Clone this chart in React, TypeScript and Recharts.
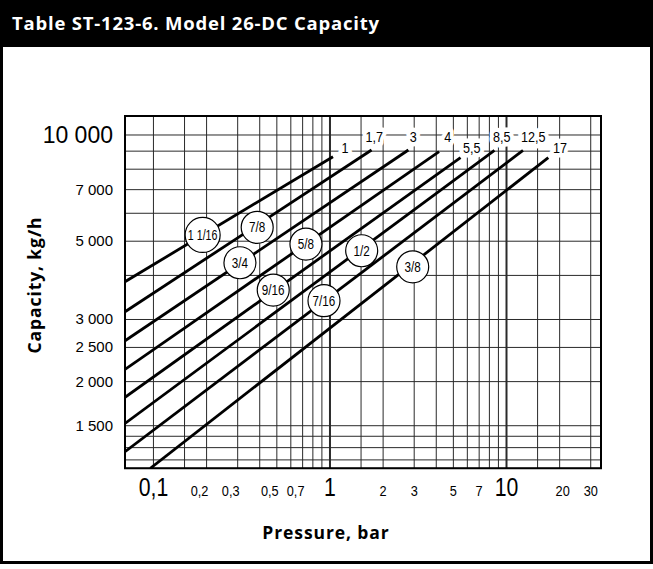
import React from 'react';
import { LineChart, Line, XAxis, YAxis, CartesianGrid, Scatter, ReferenceArea } from 'recharts';

const xGrid = [0.1, 0.15, 0.2, 0.3, 0.4, 0.5, 0.6, 0.7, 0.8, 0.9, 1, 1.5, 2, 3, 4, 5, 6, 7, 8, 9, 10, 15, 20, 30];
const xMajorGrid = [1, 10];
const yGrid = [1200, 1300, 1400, 1500, 2000, 2500, 3000, 4000, 5000, 6000, 7000, 8000, 9000, 10000];
const xTickLabels = [0.1, 0.2, 0.3, 0.5, 0.7, 1, 2, 3, 5, 7, 10, 20, 30];
const xBigLabels = [0.1, 1, 10];
const yTickLabels = [1500, 2000, 2500, 3000, 5000, 7000, 10000];
const yBigLabels = [10000];

const orifices = ['1 1/16', '7/8', '3/4', '5/8', '9/16', '1/2', '7/16', '3/8'];
const maxPressureLabels = ['1', '1,7', '3', '4', '5,5', '8,5', '12,5', '17'];
const startPressure = [0.069, 0.069, 0.069, 0.069, 0.069, 0.069, 0.069, 0.096];
const startCapacity = [3839, 3155, 2612, 2167, 1805, 1523, 1266, 1136];
const endPressure = [1.04, 1.72, 2.78, 4.15, 5.49, 8.55, 12.4, 17.25];
const endCapacity = [8680, 9068, 9068, 8967, 8625, 9039, 9039, 8625];
const bubbleP = [0.19, 0.387, 0.309, 0.731, 0.477, 1.512, 0.925, 2.942];
const bubbleC = [5208, 5474, 4345, 4909, 3636, 4699, 3391, 4230];
const maxLabelP = [1.216, 1.78, 2.96, 4.64, 6.35, 9.39, 14.19, 20.1];
const maxLabelC = [9180, 9900, 9900, 9900, 9180, 9900, 9900, 9180];

const X_DOMAIN = [0.069, 34.3];
const Y_DOMAIN = [1136, 11320];

const series = orifices.map((name, i) => ({
  name,
  data: [
    { p: startPressure[i], c: startCapacity[i] },
    { p: endPressure[i], c: endCapacity[i] },
  ],
}));
const bubbles = orifices.map((t, i) => ({ p: bubbleP[i], c: bubbleC[i], t }));
const topLabels = maxPressureLabels.map((t, i) => ({ p: maxLabelP[i], c: maxLabelC[i], t }));

const fmtX = (v: number) => String(v).replace('.', ',');
const fmtY = (v: number) => String(v).replace(/\B(?=(\d{3})+(?!\d))/g, ' ');

const TICK_FONT = "'Liberation Sans', Arial, sans-serif";
const BOLD_FONT = "'Open Sans', 'Noto Sans', sans-serif";

// approximate Arial-metric width in em
const emWidth = (s: string) =>
  s.split('').reduce((a, ch) => a + (ch === ',' || ch === ' ' || ch === '/' ? 0.278 : 0.556), 0);

const XTick = (props: any) => {
  const { x, y, payload } = props;
  const v = payload.value;
  if (!xTickLabels.includes(v)) return <g />;
  const big = xBigLabels.includes(v);
  const dx = !big && v < 1 ? -7 : v === 20 ? 3 : 0;
  const fs = big ? 25 : 15;
  const label = fmtX(v);
  return (
    <text
      x={x + dx}
      y={y + 20}
      textAnchor="middle"
      fontFamily={TICK_FONT}
      fontSize={fs}
      fill="#000"
      textLength={emWidth(label) * fs * 0.85}
      lengthAdjust="spacingAndGlyphs"
    >
      {label}
    </text>
  );
};

const YTick = (props: any) => {
  const { x, y, payload } = props;
  const v = payload.value;
  if (!yTickLabels.includes(v)) return <g />;
  const big = yBigLabels.includes(v);
  return (
    <text x={x - 4} y={y} dy={big ? 8 : 5} textAnchor="end" fontFamily={TICK_FONT} fontSize={big ? 23 : 15} fill="#000">
      {fmtY(v)}
    </text>
  );
};

const VGrid = (props: any) => {
  const { x1, y1, x2, y2, index } = props;
  const major = xMajorGrid.includes(xGrid[index]);
  return <line x1={x1} y1={y1} x2={x2} y2={y2} stroke="#2a2a2a" strokeWidth={major ? 2 : 1} />;
};

const Bubble = (props: any) => {
  const { cx, cy, payload } = props;
  const long = payload.t.length > 4;
  const r = long ? 17.5 : 16;
  const fs = 15;
  return (
    <g>
      <circle cx={cx} cy={cy} r={r} fill="#fff" stroke="#000" strokeWidth={1.2} />
      <text
        x={cx}
        y={cy}
        dy={5}
        textAnchor="middle"
        fontFamily={TICK_FONT}
        fontSize={fs}
        fill="#000"
        textLength={emWidth(payload.t) * fs * (long ? 0.71 : 0.78)}
        lengthAdjust="spacingAndGlyphs"
      >
        {payload.t}
      </text>
    </g>
  );
};

const TopLabel = (props: any) => {
  const { cx, cy, payload } = props;
  const fs = 14;
  return (
    <text
      x={cx}
      y={cy}
      dy={5}
      textAnchor="middle"
      fontFamily={TICK_FONT}
      fontSize={fs}
      fill="#000"
      stroke="#fff"
      strokeWidth={9}
      strokeLinejoin="round"
      paintOrder="stroke"
      textLength={emWidth(payload.t) * fs * 0.9}
      lengthAdjust="spacingAndGlyphs"
    >
      {payload.t}
    </text>
  );
};

export default function App() {
  return (
    <div style={{ position: 'absolute', left: 0, top: 0, width: 653, height: 569, background: '#fff' }}>
      <div
        style={{
          position: 'absolute', left: 0, top: 0, width: 653, height: 564,
          boxSizing: 'border-box', border: '3px solid #000',
        }}
      />
      <div
        style={{
          position: 'absolute', left: 0, top: 0, width: 653, height: 47, background: '#000',
          color: '#fff', fontFamily: BOLD_FONT, fontWeight: 700, fontSize: 18.5, letterSpacing: 0.8,
          lineHeight: '45px', paddingLeft: 12, boxSizing: 'border-box', whiteSpace: 'nowrap',
        }}
      >
        Table ST-123-6. Model 26-DC Capacity
      </div>
      <div style={{ position: 'absolute', left: 0, top: 0 }}>
        <LineChart width={653} height={569} margin={{ top: 116, right: 52, left: 65, bottom: 70.7 }}>
          <CartesianGrid vertical={VGrid} stroke="#2a2a2a" strokeWidth={1} />
          <XAxis
            dataKey="p"
            type="number"
            scale="log"
            domain={X_DOMAIN}
            allowDataOverflow
            ticks={xGrid}
            interval={0}
            tick={XTick}
            tickLine={false}
            axisLine={false}
            height={30}
          />
          <YAxis
            dataKey="c"
            type="number"
            scale="log"
            domain={Y_DOMAIN}
            allowDataOverflow
            ticks={yGrid}
            interval={0}
            tick={YTick}
            tickLine={false}
            axisLine={false}
            width={60}
          />
          <ReferenceArea x1={X_DOMAIN[0]} x2={X_DOMAIN[1]} y1={Y_DOMAIN[0]} y2={Y_DOMAIN[1]} fill="none" stroke="#000" strokeWidth={2} fillOpacity={0} />
          {series.map((s) => (
            <Line
              key={s.name}
              data={s.data}
              dataKey="c"
              stroke="#000"
              strokeWidth={2.8}
              dot={false}
              activeDot={false}
              isAnimationActive={false}
            />
          ))}
          <Scatter data={bubbles} shape={Bubble} isAnimationActive={false} />
          <Scatter data={topLabels} shape={TopLabel} isAnimationActive={false} />
        </LineChart>
      </div>
      <div
        style={{
          position: 'absolute', left: 33.5, top: 284.5, transform: 'translate(-50%, -50%) rotate(-90deg)',
          fontFamily: BOLD_FONT, fontWeight: 700, fontSize: 17.5, letterSpacing: 0.9, whiteSpace: 'nowrap', color: '#000',
        }}
      >
        Capacity, kg/h
      </div>
      <div
        style={{
          position: 'absolute', left: 326, top: 532, transform: 'translate(-50%, -50%)',
          fontFamily: BOLD_FONT, fontWeight: 700, fontSize: 17.5, letterSpacing: 0.9, whiteSpace: 'nowrap', color: '#000',
        }}
      >
        Pressure, bar
      </div>
    </div>
  );
}
